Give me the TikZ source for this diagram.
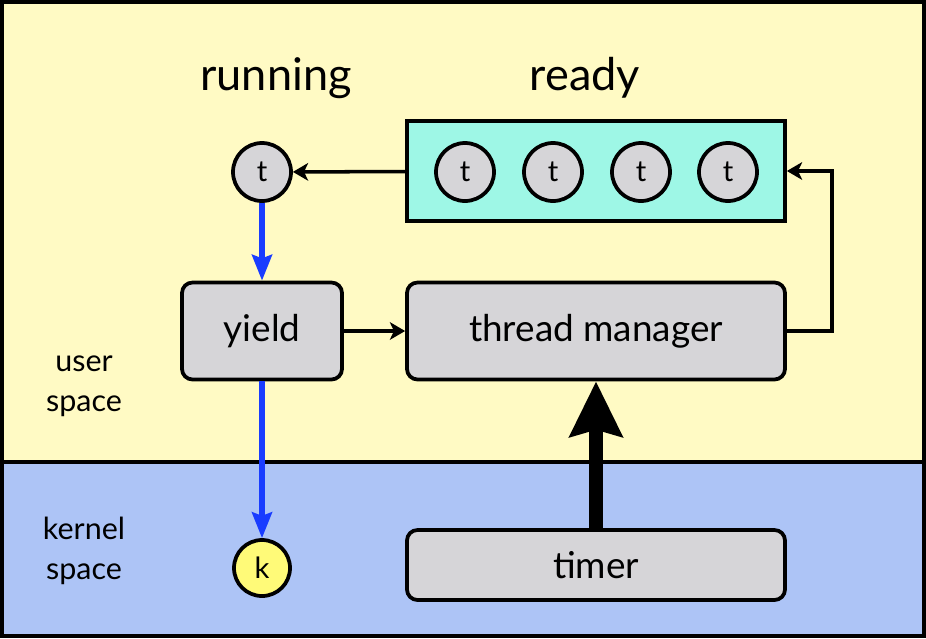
\documentclass[tikz,border=0pt]{standalone}
\usepackage{fontspec}
\setmainfont{Lato}
\usetikzlibrary{arrows.meta}
\definecolor{userbg}{RGB}{255,250,196}
\definecolor{kernelbg}{RGB}{173,196,246}
\definecolor{queueteal}{RGB}{158,247,230}
\definecolor{boxgray}{RGB}{214,213,216}
\definecolor{kyellow}{RGB}{255,250,120}
\definecolor{callblue}{RGB}{25,60,255}

\begin{document}
\begin{tikzpicture}[x=0.03cm,y=-0.03cm,
  box/.style={draw,line width=3.2pt,rounded corners=9pt,fill=boxgray,inner sep=0pt,
    font=\fontsize{31.5}{36}\selectfont},
  thr/.style={circle,draw,line width=3.2pt,fill=boxgray,minimum size=1.74cm,inner sep=0pt,
    font=\fontsize{25}{30}\selectfont},
  conn/.style={line width=3pt,-{Stealth[length=13pt,width=15pt,inset=3.5pt]}},
  call/.style={line width=4.5pt,callblue,-{Stealth[length=22pt,width=17pt,inset=3pt]}},
  tick/.style={line width=12.5pt,-{Stealth[length=16.5mm,width=15.6mm,inset=2mm]}},
  title/.style={font=\fontsize{38.5}{44}\selectfont},
  side/.style={align=center,font=\fontsize{26}{34}\selectfont}]
  \useasboundingbox (0,0) rectangle (926,638);
  \fill[userbg] (0,0) rectangle (926,462);
  \fill[kernelbg] (0,462) rectangle (926,638);
  \draw[line width=3pt] (0,462) -- (926,462);
  \draw[line width=3.5pt] (2,2) rectangle (924,636);

  \node[title] (running) at (276,78) {running};
  \node[title] (ready) at (585,78) {ready};
  \node[draw,fill=queueteal,line width=3.2pt,minimum width=11.34cm,minimum height=3cm] (queue) at (596,171) {};
  \foreach \i/\x in {1/465,2/553,3/641,4/728}
    \node[thr] (t\i) at (\x,172) {t};
  \node[thr] (cur) at (262,172) {t};
  \node[box,minimum width=4.8cm,minimum height=2.91cm] (yield) at (262,331) {yield};
  \node[box,minimum width=11.34cm,minimum height=2.91cm] (mgr) at (596,331) {thread manager};
  \node[box,minimum width=11.34cm,minimum height=2.1cm] (timer) at (596,565) {timer};
  \node[thr,fill=kyellow,minimum size=1.68cm] (k) at (262,568) {k};
  \node[side] (user) at (84,386) {user\\space};
  \node[side] (kernel) at (84,551) {kernel\\space};
  \coordinate (loop) at (832,331);

  \draw[conn] (queue) -- (cur);
  \draw[conn] (mgr.east) -- (loop) |- (queue.east);
  \draw[conn] (yield) -- (mgr);
  \draw[call] (cur) -- (yield);
  \draw[call] (yield) -- (k);
  \draw[tick] (timer) -- (mgr);
\end{tikzpicture}
\end{document}
